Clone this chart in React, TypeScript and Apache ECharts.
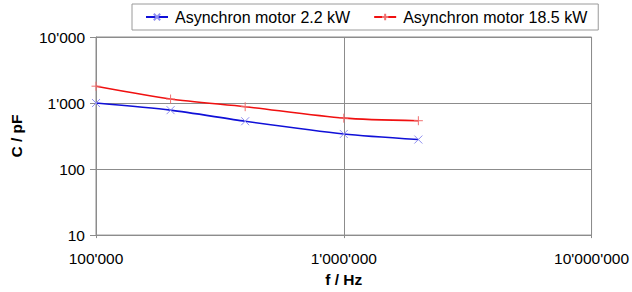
import React, { useEffect, useRef } from "react";
import * as echarts from "echarts";

const frequencies = [100000, 200000, 400000, 1000000, 2000000];
const motor22 = [1000, 780, 530, 340, 280];
const motor185 = [1800, 1150, 880, 590, 540];
const seriesNames = ["Asynchron motor 2.2 kW", "Asynchron motor 18.5 kW"];

const fmt = (v: number) =>
  String(Math.round(v)).replace(/\B(?=(\d{3})+(?!\d))/g, "'");

export default function App() {
  const ref = useRef<HTMLDivElement>(null);
  useEffect(() => {
    if (!ref.current) return;
    const chart = echarts.init(ref.current, undefined, { renderer: "svg" });
    const font = "'Liberation Sans', Arial, sans-serif";
    const gridColor = "#8c8c8c";
    chart.setOption({
      animation: false,
      textStyle: { fontFamily: font },
      legend: {
        left: 132,
        top: 4,
        padding: [5, 11, 5, 13],
        borderColor: "#9a9a9a",
        borderWidth: 1,
        itemGap: 23,
        itemWidth: 22,
        itemHeight: 8,
        textStyle: { fontSize: 16, color: "#000", fontFamily: font, padding: [0, 0, 0, 2] },
        data: seriesNames,
      },
      grid: {
        left: 91,
        right: 37,
        top: 37,
        bottom: 51,
        show: true,
        borderColor: gridColor,
        borderWidth: 1,
      },
      xAxis: {
        type: "log",
        logBase: 10,
        min: 100000,
        max: 10000000,
        name: "f / Hz",
        nameLocation: "middle",
        nameGap: 29,
        nameTextStyle: { fontSize: 15.5, fontWeight: "bold", color: "#000" },
        axisLine: { show: true, lineStyle: { color: gridColor } },
        axisTick: { show: true, length: 3, lineStyle: { color: gridColor } },
        axisLabel: { fontSize: 15.5, color: "#000", margin: 15, formatter: fmt },
        splitLine: { show: true, lineStyle: { color: gridColor, width: 1 } },
      },
      yAxis: {
        type: "log",
        logBase: 10,
        min: 10,
        max: 10000,
        name: "C / pF",
        nameLocation: "middle",
        nameGap: 72,
        nameTextStyle: { fontSize: 15.5, fontWeight: "bold", color: "#000" },
        axisLine: { show: true, lineStyle: { color: gridColor } },
        axisTick: { show: true, length: 6, lineStyle: { color: gridColor } },
        axisLabel: { fontSize: 15.5, color: "#000", margin: 11, formatter: fmt },
        splitLine: { show: true, lineStyle: { color: gridColor, width: 1 } },
      },
      series: [
        {
          name: seriesNames[0],
          type: "line",
          smooth: 0.25,
          data: frequencies.map((f, i) => [f, motor22[i]]),
          symbol: "path://M0,0L10,10M10,0L0,10",
          symbolSize: 8,
          lineStyle: { color: "#1010d8", width: 1.6 },
          itemStyle: { color: "transparent", borderColor: "#9090f0", borderWidth: 1 },
        },
        {
          name: seriesNames[1],
          type: "line",
          smooth: 0.25,
          data: frequencies.map((f, i) => [f, motor185[i]]),
          symbol: "path://M5,0L5,10M0,5L10,5",
          symbolSize: 9,
          lineStyle: { color: "#f01010", width: 1.6 },
          itemStyle: { color: "transparent", borderColor: "#f07070", borderWidth: 1 },
        },
      ],
    });
    return () => chart.dispose();
  }, []);
  return <div ref={ref} style={{ width: 632, height: 292, position: "absolute", left: 0, top: 0 }} />;
}
